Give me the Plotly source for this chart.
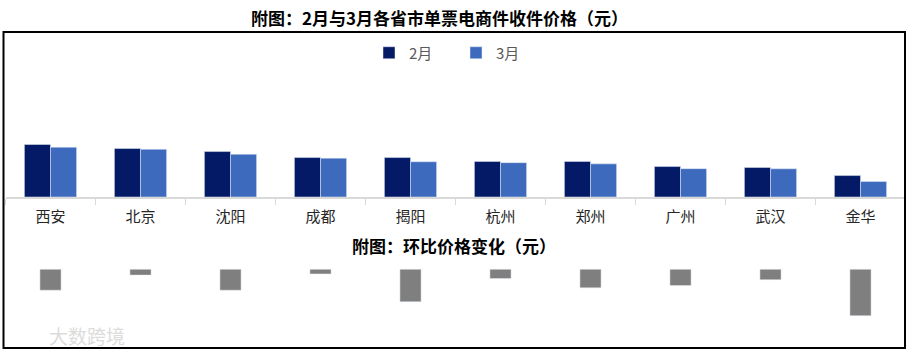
import plotly.graph_objects as go

cities = ["西安", "北京", "沈阳", "成都", "揭阳", "杭州", "郑州", "广州", "武汉", "金华"]
feb = [3.50, 3.23, 3.03, 2.63, 2.63, 2.37, 2.37, 2.03, 1.97, 1.43]
mar = [3.32, 3.18, 2.85, 2.59, 2.35, 2.29, 2.21, 1.89, 1.88, 1.03]
change = [-0.18, -0.05, -0.18, -0.04, -0.28, -0.08, -0.16, -0.14, -0.09, -0.40]

title_top = "附图：2月与3月各省市单票电商件收件价格（元）"
title_bottom = "附图：环比价格变化（元）"

W, H = 912, 355
def py(p):  # pixel y -> paper y
    return 1 - p / H
def px(p):
    return p / W

FONT = "Noto Sans CJK SC"

fig = go.Figure()
fig.add_trace(go.Bar(x=cities, y=feb, name="2月", marker_color="#051A67",
                     xaxis="x", yaxis="y"))
fig.add_trace(go.Bar(x=cities, y=mar, name="3月", marker_color="#3E6ABD",
                     xaxis="x", yaxis="y"))
fig.add_trace(go.Bar(x=cities, y=change, name="环比", marker_color="#7F7F7F",
                     width=0.235, showlegend=False, xaxis="x2", yaxis="y2"))

top_px, zero_px, scale1 = 100, 197, 15.0
y1max = (zero_px - top_px) / scale1
b_top, b_zero, b_bot, scale2 = 258, 269.3, 345, 116.0
y2max = (b_zero - b_top) / scale2
y2min = -(b_bot - b_zero) / scale2

xdom = [px(5.5), px(905.5)]

fig.update_layout(
    width=W, height=H,
    margin=dict(l=0, r=0, t=0, b=0),
    paper_bgcolor="white", plot_bgcolor="white",
    font=dict(family=FONT, color="#333333"),
    barmode="group", bargap=0.42, bargroupgap=0,
    showlegend=True,
    legend=dict(orientation="h", x=px(456), xanchor="center", y=py(53), yanchor="middle",
                font=dict(size=15, color="#595959", family=FONT),
                itemwidth=30, traceorder="normal", entrywidth=42),
    xaxis=dict(domain=xdom, anchor="y", type="category", showline=True,
               linecolor="#d9d9d9", linewidth=1.5, ticks="outside", ticklen=6,
               tickcolor="#d9d9d9", tickson="boundaries", showgrid=False,
               ticklabelstandoff=5,
               tickfont=dict(size=15, color="#262626", family=FONT), fixedrange=True),
    yaxis=dict(domain=[py(zero_px), py(top_px)], anchor="x", range=[0, y1max],
               visible=False, showgrid=False, zeroline=False),
    xaxis2=dict(domain=xdom, anchor="y2", type="category", visible=False,
                showgrid=False),
    yaxis2=dict(domain=[py(b_bot), py(b_top)], anchor="x2", range=[y2min, y2max],
                visible=False, showgrid=False, zeroline=False),
    shapes=[dict(type="rect", xref="paper", yref="paper",
                 x0=px(3.5), x1=px(905), y0=py(348), y1=py(32),
                 line=dict(color="black", width=2), fillcolor="rgba(0,0,0,0)")],
    annotations=[
        dict(text=f"<b>{title_top}</b>", xref="paper", yref="paper",
             x=px(439), y=py(17), xanchor="center", yanchor="middle", showarrow=False,
             font=dict(size=17, color="black", family=FONT)),
        dict(text=f"<b>{title_bottom}</b>", xref="paper", yref="paper",
             x=px(454), y=py(245), xanchor="center", yanchor="middle", showarrow=False,
             font=dict(size=17, color="black", family=FONT)),
        dict(text="大数跨境", xref="paper", yref="paper",
             x=px(47), y=py(335), xanchor="left", yanchor="middle", showarrow=False,
             font=dict(size=19, color="#dcdcdc", family=FONT)),
    ],
)

fig.write_html("out.html", config={"displayModeBar": False},
               post_script="document.body.style.margin='0';document.body.style.overflow='hidden';")
